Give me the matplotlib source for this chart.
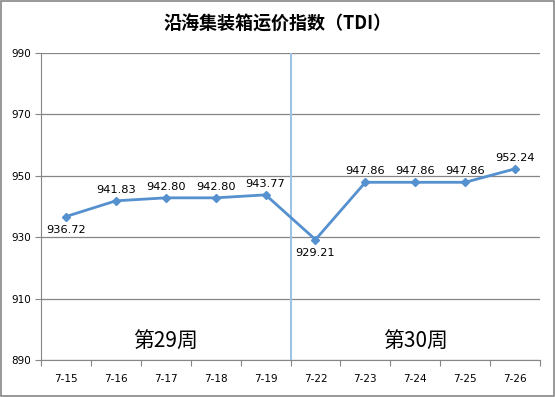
import matplotlib.pyplot as plt
from matplotlib.patches import Rectangle

plt.rcParams['font.family'] = ['Noto Sans CJK SC', 'DejaVu Sans']

dates = ['7-15', '7-16', '7-17', '7-18', '7-19', '7-22', '7-23', '7-24', '7-25', '7-26']
tdi = [936.72, 941.83, 942.80, 942.80, 943.77, 929.21, 947.86, 947.86, 947.86, 952.24]
y_ticks = [890, 910, 930, 950, 970, 990]
week_labels = ['第29周', '第30周']

fig = plt.figure(figsize=(5.55, 3.97), dpi=100)
ax = fig.add_axes([0.074, 0.093, 0.899, 0.774])

x = list(range(len(dates)))
ax.plot(x, tdi, color='#5590CF', lw=2, marker='D', ms=4.5, zorder=3)

# data labels: below for the two low points
for i, v in enumerate(tdi):
    below = i in (0, 5)
    ax.annotate(f'{v:.2f}', (i, v), xytext=(0, -10 if below else 8),
                textcoords='offset points', ha='center', va='center',
                fontsize=8.2, family=['DejaVu Sans'])

# week separator
ax.axvline(4.5, color='#9DC3E6', lw=1.5, zorder=2)
ax.text(2.0, 896, week_labels[0], ha='center', va='center', fontsize=15)
ax.text(7.0, 896, week_labels[1], ha='center', va='center', fontsize=15)

ax.set_xlim(-0.5, len(dates) - 0.5)
ax.set_ylim(890, 990)
ax.set_yticks(y_ticks)
ax.set_yticklabels([str(t) for t in y_ticks], fontsize=7.5, family=['DejaVu Sans'])
ax.yaxis.grid(True, color='#868686', lw=0.9)
ax.set_axisbelow(True)
ax.tick_params(axis='y', length=4, color='#868686', direction='out')

# category labels centered, ticks between categories
ax.set_xticks([i - 0.5 for i in range(len(dates) + 1)])
ax.set_xticklabels([])
ax.set_xticks(x, minor=True)
ax.set_xticklabels(dates, minor=True, fontsize=7.5, family=['DejaVu Sans'])
ax.tick_params(axis='x', which='major', length=4, color='#868686', direction='out')
ax.tick_params(axis='x', which='minor', length=0, pad=10)

for side in ['top', 'right']:
    ax.spines[side].set_visible(False)
for side in ['left', 'bottom']:
    ax.spines[side].set_color('#868686')

fig.text(0.5, 0.94, '沿海集装箱运价指数（TDI）', ha='center', va='center',
         fontsize=13, fontweight='bold')

fig.patches.append(Rectangle((0.002, 0.003), 0.996, 0.994, transform=fig.transFigure,
                             fill=False, edgecolor='#868686', lw=1.2))

fig.savefig('out.png', dpi=100)
